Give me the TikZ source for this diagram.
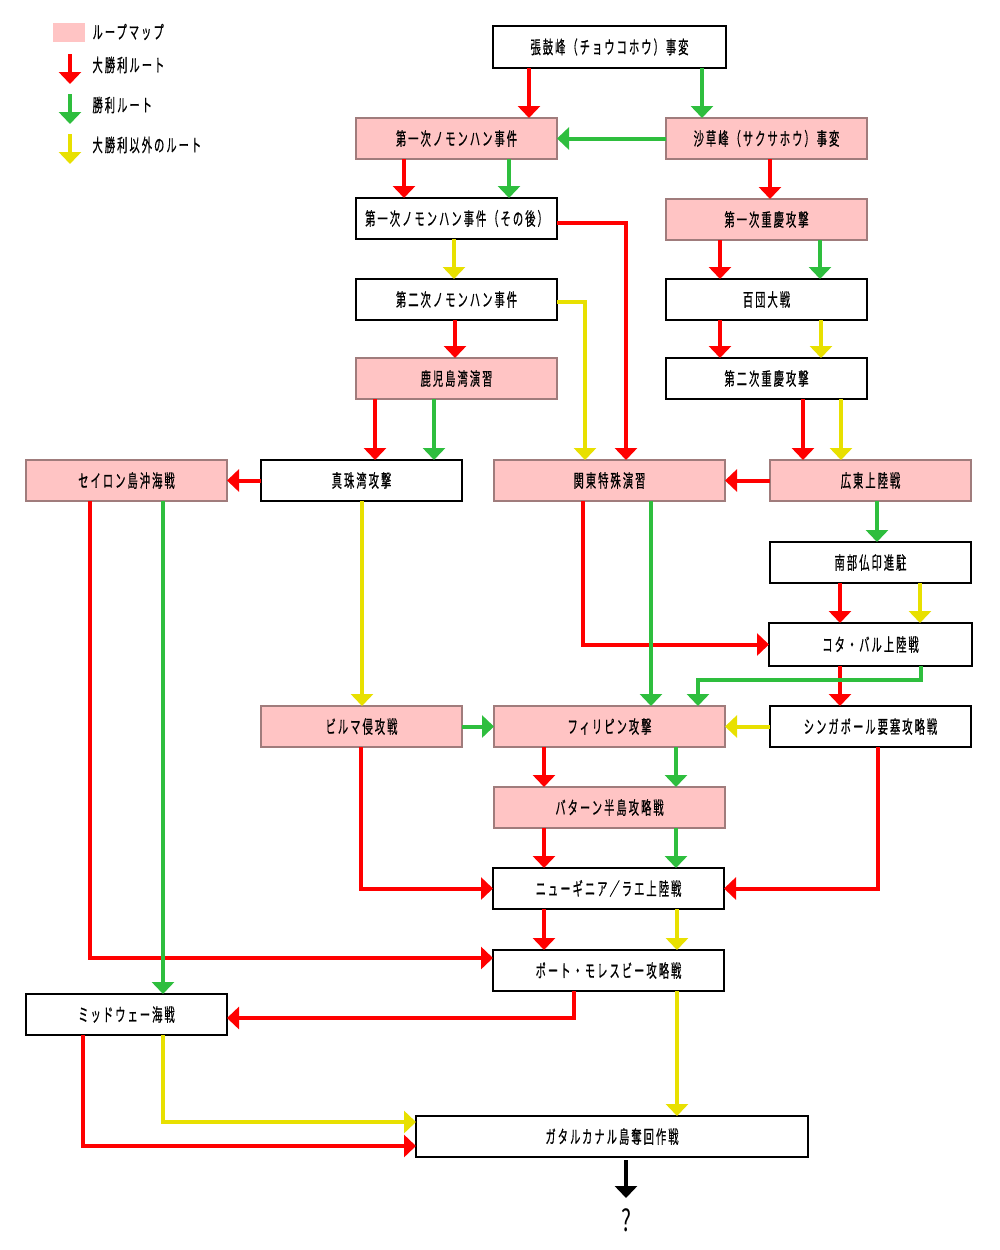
\documentclass[tikz,border=0pt]{standalone}
\usepackage{fontspec}
\newfontfamily\jp[LetterSpace=20,FakeBold=0.8]{Noto Sans CJK JP}
\newfontfamily\jpq{Noto Sans CJK JP}
\usetikzlibrary{arrows.meta}
\definecolor{rr}{HTML}{FF0000}
\definecolor{gg}{HTML}{2EBE3E}
\definecolor{yy}{HTML}{E8E000}
\definecolor{pk}{HTML}{FFC4C4}
\definecolor{pkb}{HTML}{A07C7C}
\newcommand\lbl[1]{\scalebox{0.57}[1]{#1}}
\tikzset{
  box/.style={draw=black, line width=1.2pt, fill=white, inner sep=0pt, outer sep=0pt,
    minimum height=41pt, minimum width=201pt, font=\jp\fontsize{18}{18}\selectfont},
  pbox/.style={box, draw=pkb, fill=pk},
  lgtext/.style={anchor=west, font=\jp\fontsize{18}{18}\selectfont},
  conn/.style={line width=4pt, -{Triangle[width=22pt,length=12pt]}},
  rline/.style={conn, draw=rr},
  gline/.style={conn, draw=gg},
  yline/.style={conn, draw=yy},
  kline/.style={conn, draw=black},
}
\begin{document}
\begin{tikzpicture}[x=1pt,y=-1pt]
\useasboundingbox (0,0) rectangle (1000,1250);

% legend
\node[fill=pk, minimum width=32pt, minimum height=19pt, inner sep=0pt] (lg0) at (69,32.5) {};
\node[lgtext] (lt0) at (89,32) {\lbl{ループマップ}};
\coordinate (la1) at (70,54); \coordinate (lb1) at (70,84);
\coordinate (la2) at (70,94); \coordinate (lb2) at (70,124);
\coordinate (la3) at (70,134); \coordinate (lb3) at (70,164);
\draw[rline] (la1) -- (lb1);
\draw[gline] (la2) -- (lb2);
\draw[yline] (la3) -- (lb3);
\node[lgtext] (lt1) at (89,65) {\lbl{大勝利ルート}};
\node[lgtext] (lt2) at (89,105) {\lbl{勝利ルート}};
\node[lgtext] (lt3) at (89,145) {\lbl{大勝利以外のルート}};

% nodes
\node[box, minimum width=233pt, minimum height=42pt] (zk) at (609.5,47) {\lbl{張鼓峰（チョウコホウ）事変}};
\node[pbox] (n1) at (456.5,138.5) {\lbl{第一次ノモンハン事件}};
\node[pbox] (sk) at (766.5,138.5) {\lbl{沙草峰（サクサホウ）事変}};
\node[box] (n1a) at (456.5,218.5) {\lbl{第一次ノモンハン事件（その後）}};
\node[pbox] (c1) at (766.5,219.5) {\lbl{第一次重慶攻撃}};
\node[box] (n2) at (456.5,299.5) {\lbl{第二次ノモンハン事件}};
\node[box] (hd) at (766.5,299.5) {\lbl{百団大戦}};
\node[pbox] (kg) at (456.5,378.5) {\lbl{鹿児島湾演習}};
\node[box] (c2) at (766.5,378.5) {\lbl{第二次重慶攻撃}};
\node[pbox] (cy) at (126.5,480.5) {\lbl{セイロン島沖海戦}};
\node[box] (ph) at (361.5,480.5) {\lbl{真珠湾攻撃}};
\node[pbox, minimum width=231pt] (kt) at (609.5,480.5) {\lbl{関東特殊演習}};
\node[pbox] (gt) at (870.5,480.5) {\lbl{広東上陸戦}};
\node[box] (nb) at (870.5,562.5) {\lbl{南部仏印進駐}};
\node[box, minimum width=203pt, minimum height=43pt] (kb) at (870.5,644.5) {\lbl{コタ・バル上陸戦}};
\node[pbox] (bm) at (361.5,726.5) {\lbl{ビルマ侵攻戦}};
\node[pbox, minimum width=231pt] (fp) at (609.5,726.5) {\lbl{フィリピン攻撃}};
\node[box] (sg) at (870.5,726.5) {\lbl{シンガポール要塞攻略戦}};
\node[pbox, minimum width=231pt] (bt) at (609.5,807.5) {\lbl{バターン半島攻略戦}};
\node[box, minimum width=231pt] (ng) at (608.5,888.5) {\lbl{ニューギニア／ラエ上陸戦}};
\node[box, minimum width=231pt] (pm) at (608.5,970.5) {\lbl{ポート・モレスビー攻略戦}};
\node[box] (mw) at (126.5,1014.5) {\lbl{ミッドウェー海戦}};
\node[box, minimum width=392pt] (gd) at (612,1136.5) {\lbl{ガタルカナル島奪回作戦}};
\node[font=\jpq\fontsize{30}{30}\selectfont, inner sep=0pt] (q) at (626,1220) {\scalebox{0.7}[1]{?}};
\coordinate (qa) at (626,1198);

% connectors
\draw[rline] (zk.south -| 529,0) -- (n1.north -| 529,0);
\draw[gline] (zk.south -| 702,0) -- (sk.north -| 702,0);
\draw[gline] (sk.west) -- (n1.east);
\draw[rline] (n1.south -| 404,0) -- (n1a.north -| 404,0);
\draw[gline] (n1.south -| 509,0) -- (n1a.north -| 509,0);
\draw[rline] (sk.south -| 770,0) -- (c1.north -| 770,0);
\draw[rline] (n1a.east |- 0,223) -| (kt.north -| 626,0);
\draw[yline] (n1a.south -| 454,0) -- (n2.north -| 454,0);
\draw[yline] (n2.east |- 0,302) -| (kt.north -| 585,0);
\draw[rline] (n2.south -| 455,0) -- (kg.north -| 455,0);
\draw[rline] (c1.south -| 720,0) -- (hd.north -| 720,0);
\draw[gline] (c1.south -| 820,0) -- (hd.north -| 820,0);
\draw[rline] (hd.south -| 720,0) -- (c2.north -| 720,0);
\draw[yline] (hd.south -| 821,0) -- (c2.north -| 821,0);
\draw[rline] (kg.south -| 375,0) -- (ph.north -| 375,0);
\draw[gline] (kg.south -| 434,0) -- (ph.north -| 434,0);
\draw[rline] (c2.south -| 803,0) -- (gt.north -| 803,0);
\draw[yline] (c2.south -| 841,0) -- (gt.north -| 841,0);
\draw[rline] (gt.west) -- (kt.east);
\draw[rline] (ph.west) -- (cy.east);
\draw[gline] (gt.south -| 877,0) -- (nb.north -| 877,0);
\draw[rline] (nb.south -| 840,0) -- (kb.north -| 840,0);
\draw[yline] (nb.south -| 920,0) -- (kb.north -| 920,0);
\draw[rline] (kt.south -| 583,0) |- (kb.west);
\draw[gline] (kt.south -| 651,0) -- (fp.north -| 651,0);
\draw[rline] (kb.south -| 840,0) -- (sg.north -| 840,0);
\draw[gline] (kb.south -| 921,0) -- (921,680) -| (fp.north -| 698,0);
\draw[yline] (sg.west) -- (fp.east);
\draw[yline] (ph.south -| 362,0) -- (bm.north -| 362,0);
\draw[gline] (bm.east) -- (fp.west);
\draw[rline] (fp.south -| 544,0) -- (bt.north -| 544,0);
\draw[gline] (fp.south -| 676,0) -- (bt.north -| 676,0);
\draw[rline] (bt.south -| 544,0) -- (ng.north -| 544,0);
\draw[gline] (bt.south -| 676,0) -- (ng.north -| 676,0);
\draw[rline] (bm.south -| 361,0) |- (ng.west);
\draw[rline] (sg.south -| 878,0) |- (ng.east);
\draw[rline] (ng.south -| 544,0) -- (pm.north -| 544,0);
\draw[yline] (ng.south -| 677,0) -- (pm.north -| 677,0);
\draw[rline] (cy.south -| 90,0) |- (pm.west |- 0,958);
\draw[gline] (cy.south -| 163,0) -- (mw.north -| 163,0);
\draw[rline] (pm.south -| 574,0) |- (mw.east |- 0,1018);
\draw[yline] (pm.south -| 677,0) -- (gd.north -| 677,0);
\draw[yline] (mw.south -| 163,0) |- (gd.west |- 0,1122);
\draw[rline] (mw.south -| 83,0) |- (gd.west |- 0,1146);
\draw[kline] (gd.south -| 626,0) ++(0,3) -- (qa);
\end{tikzpicture}
\end{document}
